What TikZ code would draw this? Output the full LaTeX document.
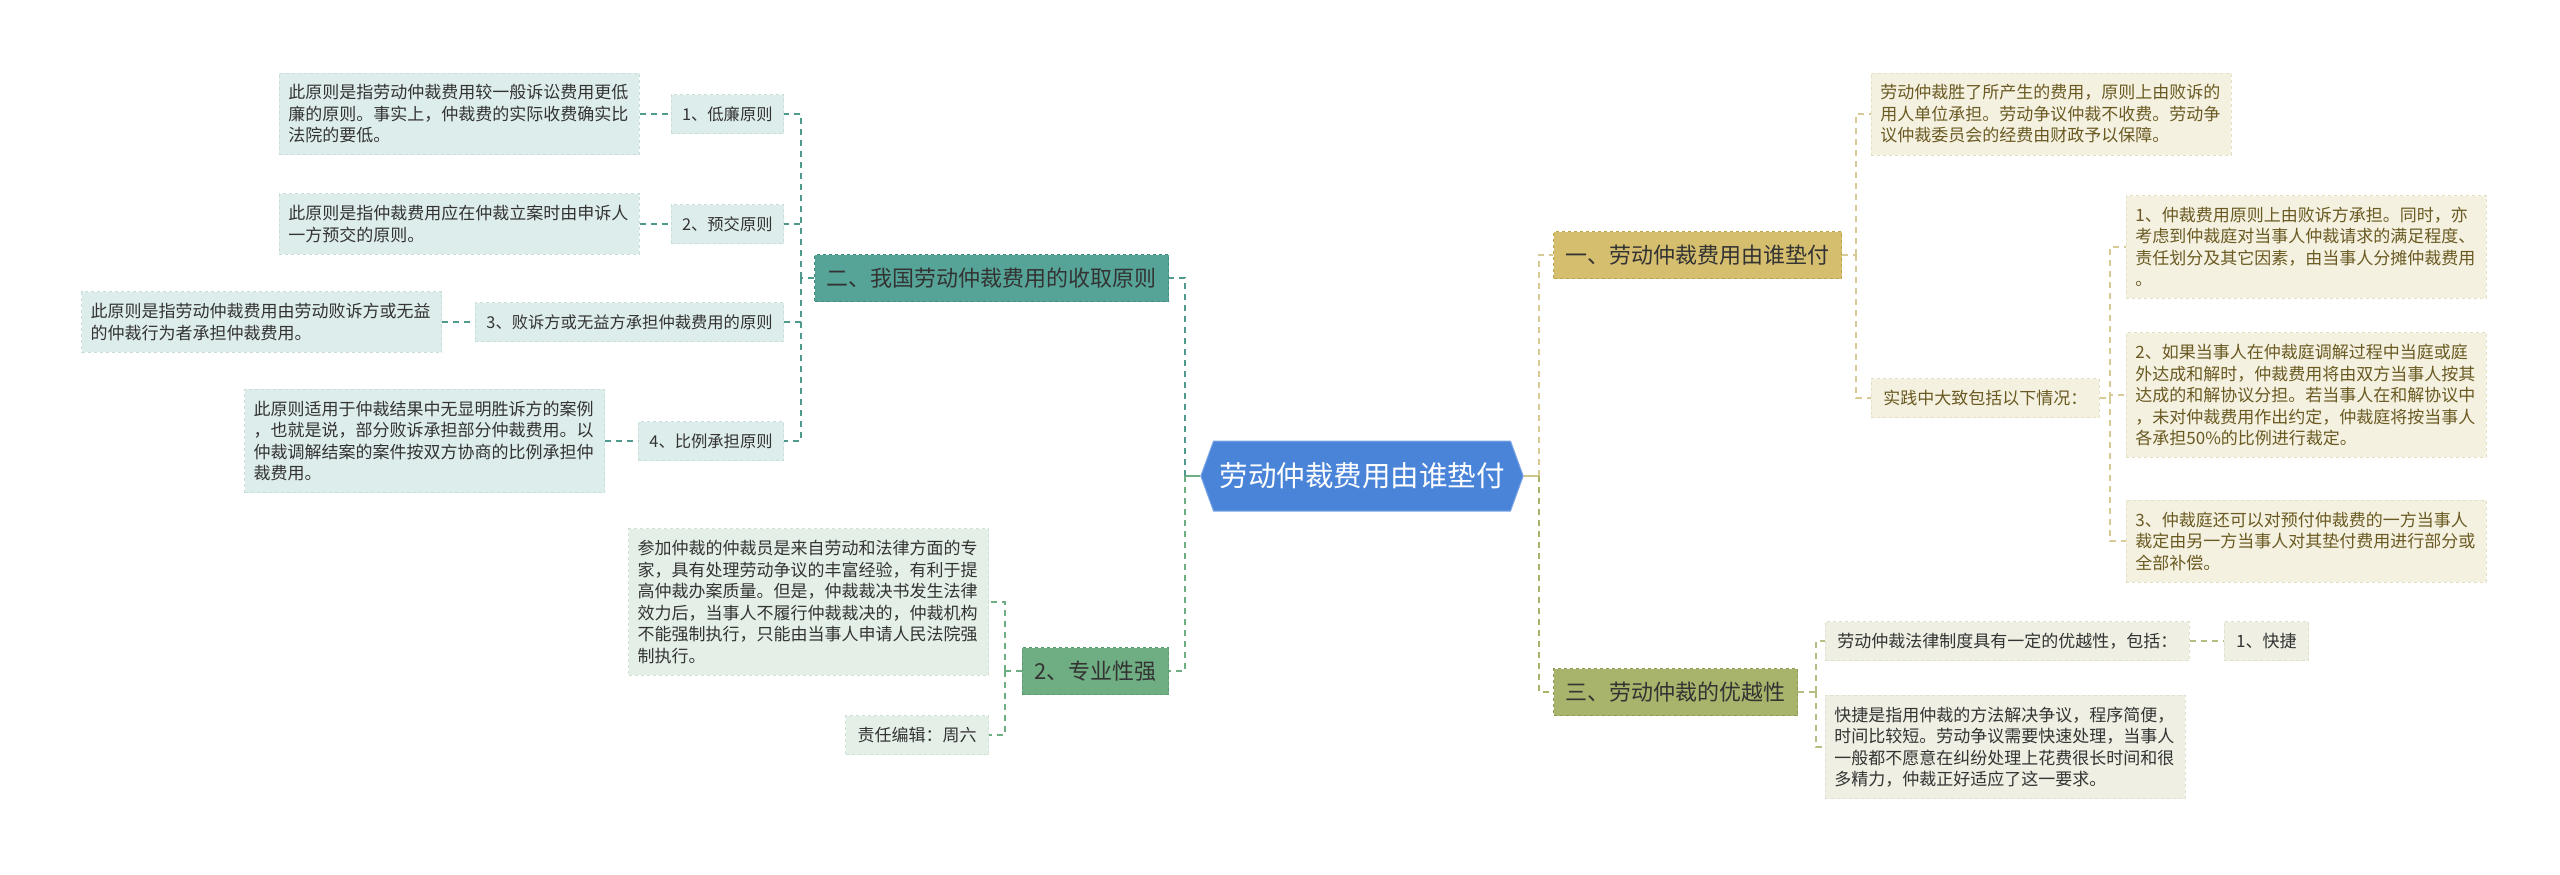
\documentclass[tikz,border=0pt]{standalone}
\usepackage{fontspec}
\setmainfont{Noto Sans CJK SC}
\usetikzlibrary{shapes.symbols}
\definecolor{CBlue}{HTML}{4A84D9}
\definecolor{CBord}{HTML}{7FA8E6}
\definecolor{TealF}{HTML}{56A497}
\definecolor{TealD}{HTML}{3F8B7E}
\definecolor{TealL}{HTML}{4F9A8D}
\definecolor{GreenF}{HTML}{6FAE83}
\definecolor{GreenD}{HTML}{5A9A6F}
\definecolor{GoldF}{HTML}{D5BE6E}
\definecolor{GoldD}{HTML}{BBA24F}
\definecolor{GoldL}{HTML}{D8CA95}
\definecolor{OliveF}{HTML}{A8B46B}
\definecolor{OliveD}{HTML}{8F9B53}
\definecolor{OliveL}{HTML}{B4BE80}
\definecolor{LLfill}{HTML}{DDEDEB}
\definecolor{LLdraw}{HTML}{C8DEDA}
\definecolor{GLfill}{HTML}{E4F0E7}
\definecolor{GLdraw}{HTML}{CFE2D4}
\definecolor{RLfill}{HTML}{F4F1E1}
\definecolor{RLdraw}{HTML}{E4DEC2}
\definecolor{OLfill}{HTML}{EFF0E3}
\definecolor{OLdraw}{HTML}{DDE0CA}
\definecolor{DarkT}{HTML}{333333}
\definecolor{BrownT}{HTML}{6A5A22}
\tikzset{
  centerhex/.style={shape=signal, signal to=west and east, signal pointer angle=140,
    fill=CBlue, draw=CBord, line width=1pt, text=white,
    font=\fontsize{28.5}{30}\selectfont, inner xsep=6pt, inner ysep=0pt, minimum height=70pt},
  mainbox/.style={rectangle, minimum height=47pt, inner xsep=12pt, inner ysep=0pt,
    font=\fontsize{22}{26}\selectfont, dashed, line width=1pt, text=DarkT},
  leafbox/.style={rectangle, align=left, text width=342pt, inner xsep=9pt, inner ysep=11.5pt,
    font=\fontsize{17}{21.5}\selectfont, dashed, line width=0.8pt},
  onebox/.style={rectangle, minimum height=39pt, inner xsep=12pt, inner ysep=0pt,
    font=\fontsize{17}{21.5}\selectfont, dashed, line width=0.8pt},
  smallone/.style={onebox, inner xsep=11pt, font=\fontsize{16.3}{21}\selectfont},
  tealleaf/.style={fill=LLfill, draw=LLdraw, text=DarkT},
  greenleaf/.style={fill=GLfill, draw=GLdraw, text=DarkT},
  goldleaf/.style={fill=RLfill, draw=RLdraw, text=BrownT},
  oliveleaf/.style={fill=OLfill, draw=OLdraw, text=DarkT},
  conn/.style={line width=1.6pt, dash pattern=on 6pt off 5pt},
  solidconn/.style={line width=1.6pt},
}
\begin{document}
\begin{tikzpicture}[x=1pt,y=-1pt]
\useasboundingbox (0,0) rectangle (2560,875);

% centre
\node[centerhex] (c) at (1362,476) {劳动仲裁费用由谁垫付};

% main branches
\node[mainbox, fill=TealF, draw=TealD, anchor=east] (b2) at (1169,278) {二、我国劳动仲裁费用的收取原则};
\node[mainbox, fill=GreenF, draw=GreenD, anchor=east] (b4) at (1169,671) {2、专业性强};
\node[mainbox, fill=GoldF, draw=GoldD, anchor=west] (b1) at (1553,255) {一、劳动仲裁费用由谁垫付};
\node[mainbox, fill=OliveF, draw=OliveD, anchor=west] (b3) at (1553,692) {三、劳动仲裁的优越性};

% left children of b2
\node[smallone, tealleaf, anchor=east] (k1) at (784,114) {1、低廉原则};
\node[smallone, tealleaf, anchor=east] (k2) at (784,224) {2、预交原则};
\node[smallone, tealleaf, anchor=east] (k3) at (784,322) {3、败诉方或无益方承担仲裁费用的原则};
\node[smallone, tealleaf, anchor=east] (k4) at (784,441) {4、比例承担原则};

\node[leafbox, tealleaf, anchor=east] (l1) at ([xshift=-31pt]k1.west) {此原则是指劳动仲裁费用较一般诉讼费用更低\\廉的原则。事实上，仲裁费的实际收费确实比\\法院的要低。};
\node[leafbox, tealleaf, anchor=east] (l2) at ([xshift=-31pt]k2.west) {此原则是指仲裁费用应在仲裁立案时由申诉人\\一方预交的原则。};
\node[leafbox, tealleaf, anchor=east] (l3) at ([xshift=-33pt]k3.west) {此原则是指劳动仲裁费用由劳动败诉方或无益\\的仲裁行为者承担仲裁费用。};
\node[leafbox, tealleaf, anchor=east] (l4) at ([xshift=-33pt]k4.west) {此原则适用于仲裁结果中无显明胜诉方的案例\\，也就是说，部分败诉承担部分仲裁费用。以\\仲裁调解结案的案件按双方协商的比例承担仲\\裁费用。};

% children of b4
\node[leafbox, greenleaf, anchor=east] (m1) at (989,602) {参加仲裁的仲裁员是来自劳动和法律方面的专\\家，具有处理劳动争议的丰富经验，有利于提\\高仲裁办案质量。但是，仲裁裁决书发生法律\\效力后，当事人不履行仲裁裁决的，仲裁机构\\不能强制执行，只能由当事人申请人民法院强\\制执行。};
\node[onebox, greenleaf, anchor=east] (m2) at (989,735) {责任编辑：周六};

% children of b1
\node[leafbox, goldleaf, anchor=west] (r1) at (1871,114) {劳动仲裁胜了所产生的费用，原则上由败诉的\\用人单位承担。劳动争议仲裁不收费。劳动争\\议仲裁委员会的经费由财政予以保障。};
\node[onebox, goldleaf, anchor=west] (p) at (1871,398) {实践中大致包括以下情况：};
\node[leafbox, goldleaf, anchor=west] (q1) at (2126,247) {1、仲裁费用原则上由败诉方承担。同时，亦\\考虑到仲裁庭对当事人仲裁请求的满足程度、\\责任划分及其它因素，由当事人分摊仲裁费用\\。};
\node[leafbox, goldleaf, anchor=west] (q2) at (2126,395) {2、如果当事人在仲裁庭调解过程中当庭或庭\\外达成和解时，仲裁费用将由双方当事人按其\\达成的和解协议分担。若当事人在和解协议中\\，未对仲裁费用作出约定，仲裁庭将按当事人\\各承担50\%的比例进行裁定。};
\node[leafbox, goldleaf, anchor=west] (q3) at (2126,541) {3、仲裁庭还可以对预付仲裁费的一方当事人\\裁定由另一方当事人对其垫付费用进行部分或\\全部补偿。};

% children of b3
\node[onebox, oliveleaf, anchor=west] (s1) at (1825,641) {劳动仲裁法律制度具有一定的优越性，包括：};
\node[onebox, oliveleaf, anchor=west] (s1c) at ([xshift=34pt]s1.east) {1、快捷};
\node[leafbox, oliveleaf, anchor=west] (s2) at (1825,747) {快捷是指用仲裁的方法解决争议，程序简便，\\时间比较短。劳动争议需要快速处理，当事人\\一般都不愿意在纠纷处理上花费很长时间和很\\多精力，仲裁正好适应了这一要求。};

% connectors: centre
\draw[solidconn, GreenF] (c.west) -- ++(-15,0) coordinate (jl);
\draw[conn, TealL] (jl) |- (b2.east);
\draw[conn, GreenF] (jl) |- (b4.east);
\draw[solidconn, GoldL!80!OliveF] (c.east) -- ++(15,0) coordinate (jr);
\draw[conn, GoldL] (jr) |- (b1.west);
\draw[conn, OliveF] (jr) |- (b3.west);

% b2 subtree
\draw[conn, TealL] (b2.west) -- ++(-13,0) coordinate (j2);
\foreach \k in {k1,k2,k3,k4} \draw[conn, TealL] (j2) |- (\k.east);
\draw[conn, TealL] (l1.east) -- (k1.west);
\draw[conn, TealL] (l2.east) -- (k2.west);
\draw[conn, TealL] (l3.east) -- (k3.west);
\draw[conn, TealL] (l4.east) -- (k4.west);

% b4 subtree
\draw[conn, GreenF] (b4.west) -- ++(-17,0) coordinate (j4);
\draw[conn, GreenF] (j4) |- (m1.east);
\draw[conn, GreenF] (j4) |- (m2.east);

% b1 subtree
\draw[conn, GoldL] (b1.east) -- ++(14,0) coordinate (j1);
\draw[conn, GoldL] (j1) |- (r1.west);
\draw[conn, GoldL] (j1) |- (p.west);
\draw[conn, GoldL] (p.east) -- ++(10,0) coordinate (jp);
\foreach \q in {q1,q2,q3} \draw[conn, GoldL] (jp) |- (\q.west);

% b3 subtree
\draw[conn, OliveL] (b3.east) -- ++(18,0) coordinate (j3);
\draw[conn, OliveL] (j3) |- (s1.west);
\draw[conn, OliveL] (j3) |- (s2.west);
\draw[conn, OliveL] (s1.east) -- (s1c.west);
\end{tikzpicture}
\end{document}
